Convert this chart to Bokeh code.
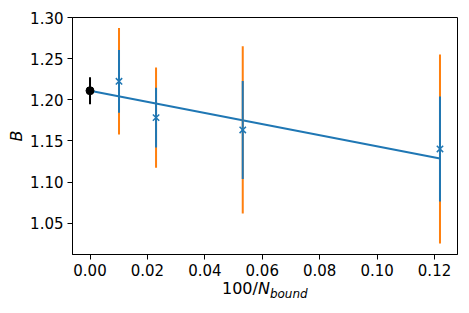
from bokeh.plotting import figure
from bokeh.models import Range1d, FixedTicker, NumeralTickFormatter, ColumnDataSource, Div
from bokeh.layouts import column
from bokeh.embed import file_html
from bokeh.resources import INLINE

# data
x_sim = [0.0101, 0.0230, 0.0532, 0.1219]
B_sim = [1.2224, 1.1783, 1.1633, 1.1402]
err_stat = [0.0381, 0.0363, 0.0595, 0.0638]
err_tot = [0.0647, 0.0609, 0.1017, 0.1148]

x_extrap = [0.0]
B_extrap = [1.2110]
err_extrap = [0.0165]

fit_x = [0.0, 0.1219]
fit_y = [1.2110, 1.1287]

x_ticks = [0.00, 0.02, 0.04, 0.06, 0.08, 0.10, 0.12]
y_ticks = [1.05, 1.10, 1.15, 1.20, 1.25, 1.30]

BLUE = "#1f77b4"
ORANGE = "#ff7f0e"
FONT = "DejaVu Sans"

p = figure(width=469, height=281, output_backend="svg", toolbar_location=None,
           x_range=Range1d(-0.0061, 0.1280), y_range=Range1d(1.0119, 1.3000),
           min_border_left=72, min_border_right=12, min_border_top=17, min_border_bottom=27)
p.grid.visible = False
p.outline_line_color = "black"
p.outline_line_width = 1
p.background_fill_color = "white"
p.border_fill_color = "white"

for ax in (p.xaxis[0], p.yaxis[0]):
    ax.axis_line_color = "black"
    ax.major_tick_line_color = "black"
    ax.major_tick_out = 5
    ax.major_tick_in = 0
    ax.minor_tick_line_color = None
    ax.major_label_text_font = FONT
    ax.major_label_text_font_size = "15px"
    ax.major_label_text_color = "black"
    ax.major_label_standoff = 4
    ax.formatter = NumeralTickFormatter(format="0.00")

p.xaxis[0].ticker = FixedTicker(ticks=x_ticks)
p.yaxis[0].ticker = FixedTicker(ticks=y_ticks)
p.yaxis[0].axis_label = "B"
p.yaxis[0].axis_label_text_font = FONT
p.yaxis[0].axis_label_text_font_style = "italic"
p.yaxis[0].axis_label_text_font_size = "16px"
p.yaxis[0].axis_label_text_color = "black"
p.yaxis[0].axis_label_standoff = 1

# fit line
p.line(fit_x, fit_y, line_color=BLUE, line_width=2)

src = ColumnDataSource(dict(
    x=x_sim, y=B_sim,
    lo_tot=[b - e for b, e in zip(B_sim, err_tot)],
    hi_tot=[b + e for b, e in zip(B_sim, err_tot)],
    lo_stat=[b - e for b, e in zip(B_sim, err_stat)],
    hi_stat=[b + e for b, e in zip(B_sim, err_stat)],
))
p.segment(x0="x", y0="lo_tot", x1="x", y1="hi_tot", source=src,
          line_color=ORANGE, line_width=2)
p.segment(x0="x", y0="lo_stat", x1="x", y1="hi_stat", source=src,
          line_color=BLUE, line_width=2)
p.scatter("x", "y", source=src, marker="x", size=9, line_color=BLUE, line_width=1.5)

src2 = ColumnDataSource(dict(
    x=x_extrap, y=B_extrap,
    lo=[b - e for b, e in zip(B_extrap, err_extrap)],
    hi=[b + e for b, e in zip(B_extrap, err_extrap)],
))
p.segment(x0="x", y0="lo", x1="x", y1="hi", source=src2, line_color="black", line_width=2)
p.scatter("x", "y", source=src2, marker="circle", size=8, fill_color="black", line_color="black")

# x axis label with subscript, as real HTML text below the plot
label_html = (
    '<div style="font-family:\'DejaVu Sans\';font-size:16px;line-height:16px;'
    'color:black;white-space:nowrap;padding-left:222px;">'
    '100/<i>N</i><span style="font-size:12px;font-style:italic;'
    'position:relative;top:4px;">bound</span></div>'
)
xlabel = Div(text=label_html, width=469, height=30, margin=(0, 0, 0, 0))

layout = column(p, xlabel, spacing=0)
open("out.html", "w").write(file_html(layout, INLINE))
